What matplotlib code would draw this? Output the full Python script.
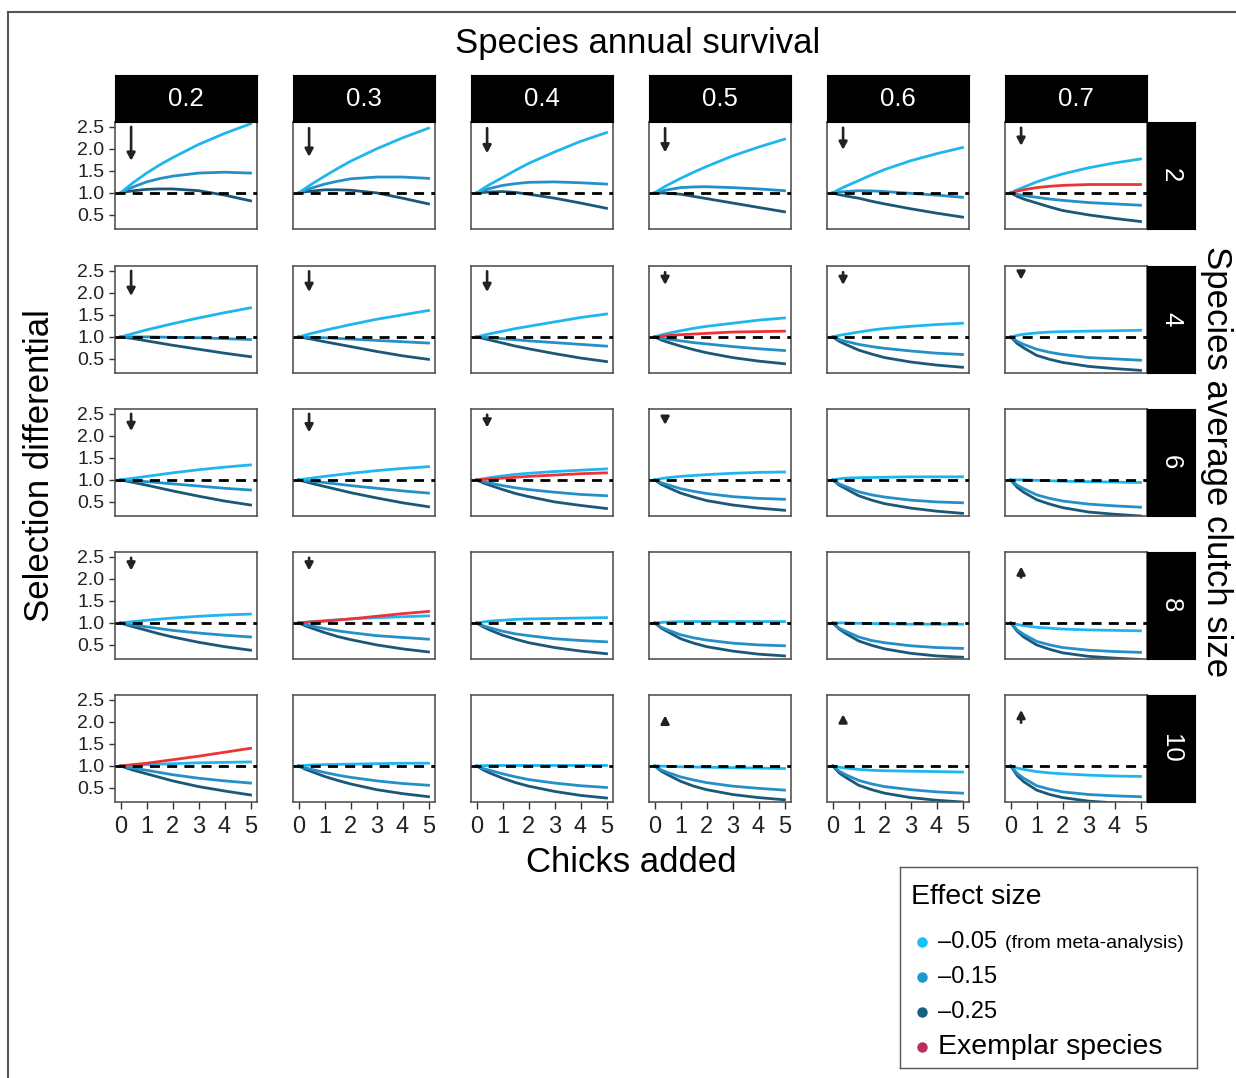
import matplotlib.pyplot as plt
from matplotlib.lines import Line2D

plt.rcParams['font.family'] = ['Liberation Sans', 'DejaVu Sans']

# facets
survival = ['0.2', '0.3', '0.4', '0.5', '0.6', '0.7']
clutch = ['2', '4', '6', '8', '10']
chicks = [0, 0.25, 0.5, 1, 1.5, 2, 3, 4, 5]

# selection differential, one list per survival column, effect size -0.05
light_c2 = [[1, 1.125, 1.24, 1.45, 1.635, 1.80, 2.10, 2.35, 2.57],
            [1, 1.10, 1.20, 1.38, 1.555, 1.72, 2.00, 2.25, 2.47],
            [1, 1.10, 1.19, 1.35, 1.515, 1.67, 1.93, 2.17, 2.37],
            [1, 1.095, 1.18, 1.33, 1.47, 1.60, 1.84, 2.04, 2.22],
            [1, 1.08, 1.15, 1.28, 1.41, 1.53, 1.73, 1.89, 2.03],
            [1, 1.07, 1.13, 1.25, 1.345, 1.43, 1.57, 1.68, 1.77]]
light_c4 = [[1, 1.04, 1.08, 1.16, 1.23, 1.30, 1.43, 1.55, 1.66],
            [1, 1.04, 1.08, 1.15, 1.215, 1.28, 1.40, 1.50, 1.60],
            [1, 1.035, 1.07, 1.13, 1.19, 1.24, 1.34, 1.44, 1.52],
            [1, 1.045, 1.08, 1.14, 1.195, 1.24, 1.31, 1.38, 1.43],
            [1, 1.035, 1.06, 1.11, 1.155, 1.19, 1.24, 1.28, 1.31],
            [1, 1.035, 1.06, 1.09, 1.11, 1.12, 1.13, 1.14, 1.15]]
light_c6 = [[1, 1.02, 1.04, 1.08, 1.12, 1.16, 1.23, 1.29, 1.34],
            [1, 1.02, 1.04, 1.08, 1.115, 1.15, 1.21, 1.26, 1.30],
            [1, 1.025, 1.05, 1.09, 1.125, 1.15, 1.19, 1.22, 1.25],
            [1, 1.03, 1.05, 1.08, 1.10, 1.12, 1.15, 1.17, 1.18],
            [1, 1.025, 1.04, 1.05, 1.055, 1.06, 1.07, 1.07, 1.07],
            [1, 1.00, 1.00, 0.99, 0.98, 0.97, 0.96, 0.95, 0.94]]
light_c8 = [[1, 1.015, 1.03, 1.06, 1.085, 1.11, 1.15, 1.18, 1.20],
            [1, 1.015, 1.03, 1.05, 1.07, 1.09, 1.12, 1.14, 1.16],
            [1, 1.02, 1.04, 1.06, 1.08, 1.09, 1.10, 1.11, 1.12],
            [1, 1.01, 1.02, 1.03, 1.03, 1.03, 1.03, 1.03, 1.03],
            [1, 1.00, 1.00, 0.99, 0.985, 0.98, 0.97, 0.97, 0.97],
            [1, 0.965, 0.94, 0.90, 0.88, 0.86, 0.84, 0.83, 0.82]]
light_c10 = [[1, 1.01, 1.02, 1.03, 1.04, 1.05, 1.07, 1.08, 1.09],
             [1, 1.01, 1.02, 1.03, 1.035, 1.04, 1.05, 1.06, 1.06],
             [1, 1.005, 1.01, 1.01, 1.01, 1.01, 1.01, 1.01, 1.01],
             [1, 0.995, 0.99, 0.98, 0.975, 0.97, 0.96, 0.95, 0.94],
             [1, 0.97, 0.95, 0.92, 0.90, 0.89, 0.88, 0.87, 0.86],
             [1, 0.95, 0.92, 0.87, 0.84, 0.82, 0.79, 0.77, 0.76]]

# effect size -0.15
medium_c2 = [[1, 1.075, 1.14, 1.25, 1.325, 1.38, 1.45, 1.47, 1.45],
             [1, 1.06, 1.11, 1.20, 1.265, 1.32, 1.36, 1.36, 1.33],
             [1, 1.055, 1.10, 1.17, 1.21, 1.24, 1.25, 1.23, 1.20],
             [1, 1.04, 1.07, 1.12, 1.135, 1.14, 1.12, 1.09, 1.05],
             [1, 1.02, 1.03, 1.05, 1.045, 1.03, 0.99, 0.95, 0.90],
             [1, 0.965, 0.94, 0.90, 0.86, 0.83, 0.78, 0.75, 0.72]]
medium_c4 = [[1, 1.00, 1.00, 1.00, 0.995, 0.99, 0.98, 0.96, 0.94],
             [1, 0.995, 0.99, 0.98, 0.965, 0.95, 0.92, 0.89, 0.86],
             [1, 0.99, 0.98, 0.96, 0.935, 0.91, 0.87, 0.83, 0.79],
             [1, 0.97, 0.95, 0.91, 0.87, 0.84, 0.78, 0.73, 0.69],
             [1, 0.94, 0.90, 0.83, 0.78, 0.74, 0.68, 0.63, 0.60],
             [1, 0.90, 0.83, 0.72, 0.65, 0.60, 0.53, 0.50, 0.47]]
medium_c6 = [[1, 0.99, 0.98, 0.96, 0.935, 0.91, 0.86, 0.81, 0.77],
             [1, 0.985, 0.97, 0.94, 0.905, 0.87, 0.81, 0.75, 0.70],
             [1, 0.96, 0.93, 0.87, 0.82, 0.78, 0.72, 0.67, 0.64],
             [1, 0.935, 0.89, 0.80, 0.74, 0.69, 0.62, 0.58, 0.56],
             [1, 0.91, 0.85, 0.73, 0.66, 0.61, 0.54, 0.50, 0.48],
             [1, 0.88, 0.80, 0.66, 0.58, 0.52, 0.45, 0.41, 0.38]]
medium_c8 = [[1, 0.97, 0.95, 0.91, 0.87, 0.83, 0.77, 0.72, 0.68],
             [1, 0.96, 0.93, 0.87, 0.82, 0.78, 0.71, 0.67, 0.63],
             [1, 0.935, 0.89, 0.81, 0.75, 0.71, 0.64, 0.60, 0.57],
             [1, 0.90, 0.84, 0.73, 0.66, 0.61, 0.54, 0.50, 0.48],
             [1, 0.88, 0.81, 0.68, 0.60, 0.55, 0.48, 0.44, 0.42],
             [1, 0.84, 0.74, 0.58, 0.50, 0.44, 0.38, 0.35, 0.33]]
medium_c10 = [[1, 0.97, 0.95, 0.90, 0.85, 0.80, 0.72, 0.66, 0.61],
              [1, 0.955, 0.92, 0.85, 0.79, 0.74, 0.66, 0.60, 0.56],
              [1, 0.94, 0.90, 0.82, 0.75, 0.69, 0.61, 0.55, 0.51],
              [1, 0.91, 0.85, 0.75, 0.68, 0.62, 0.54, 0.49, 0.45],
              [1, 0.88, 0.80, 0.67, 0.59, 0.53, 0.46, 0.41, 0.38],
              [1, 0.83, 0.72, 0.55, 0.47, 0.41, 0.35, 0.32, 0.30]]

# effect size -0.25
dark_c2 = [[1, 1.03, 1.05, 1.08, 1.09, 1.09, 1.05, 0.95, 0.82],
           [1, 1.025, 1.04, 1.07, 1.07, 1.06, 1.00, 0.88, 0.75],
           [1, 1.01, 1.02, 1.03, 1.01, 0.97, 0.88, 0.77, 0.65],
           [1, 1.00, 0.99, 0.97, 0.92, 0.87, 0.77, 0.67, 0.57],
           [1, 0.96, 0.93, 0.88, 0.81, 0.75, 0.64, 0.54, 0.45],
           [1, 0.92, 0.86, 0.77, 0.68, 0.60, 0.50, 0.42, 0.35]]
dark_c4 = [[1, 0.98, 0.96, 0.91, 0.86, 0.81, 0.72, 0.63, 0.55],
           [1, 0.975, 0.95, 0.89, 0.835, 0.78, 0.67, 0.57, 0.49],
           [1, 0.965, 0.93, 0.86, 0.79, 0.73, 0.62, 0.52, 0.44],
           [1, 0.93, 0.88, 0.79, 0.71, 0.64, 0.53, 0.45, 0.39],
           [1, 0.90, 0.83, 0.70, 0.61, 0.53, 0.43, 0.36, 0.31],
           [1, 0.85, 0.75, 0.58, 0.49, 0.42, 0.33, 0.28, 0.24]]
dark_c6 = [[1, 0.97, 0.94, 0.88, 0.815, 0.75, 0.63, 0.52, 0.43],
           [1, 0.96, 0.92, 0.85, 0.78, 0.71, 0.59, 0.48, 0.39],
           [1, 0.93, 0.88, 0.78, 0.69, 0.62, 0.50, 0.42, 0.35],
           [1, 0.90, 0.83, 0.70, 0.61, 0.53, 0.43, 0.36, 0.31],
           [1, 0.88, 0.80, 0.64, 0.54, 0.46, 0.36, 0.29, 0.24],
           [1, 0.83, 0.72, 0.55, 0.45, 0.37, 0.27, 0.22, 0.18]]
dark_c8 = [[1, 0.95, 0.91, 0.83, 0.75, 0.68, 0.56, 0.46, 0.38],
           [1, 0.935, 0.88, 0.78, 0.69, 0.62, 0.50, 0.41, 0.34],
           [1, 0.91, 0.84, 0.72, 0.63, 0.55, 0.44, 0.36, 0.30],
           [1, 0.88, 0.80, 0.64, 0.54, 0.46, 0.36, 0.29, 0.25],
           [1, 0.86, 0.76, 0.59, 0.49, 0.41, 0.31, 0.25, 0.22],
           [1, 0.81, 0.68, 0.50, 0.40, 0.32, 0.24, 0.20, 0.17]]
dark_c10 = [[1, 0.945, 0.90, 0.82, 0.74, 0.66, 0.53, 0.43, 0.34],
            [1, 0.925, 0.87, 0.76, 0.67, 0.59, 0.46, 0.37, 0.30],
            [1, 0.91, 0.84, 0.72, 0.62, 0.54, 0.42, 0.33, 0.27],
            [1, 0.88, 0.80, 0.65, 0.54, 0.46, 0.35, 0.28, 0.23],
            [1, 0.84, 0.74, 0.56, 0.46, 0.38, 0.28, 0.22, 0.18],
            [1, 0.78, 0.64, 0.45, 0.35, 0.28, 0.20, 0.16, 0.14]]

# exemplar species (clutch row, survival column)
exemplar_rows = [0, 1, 2, 3, 4]
exemplar_cols = [5, 3, 2, 1, 0]
exemplar_vals = [[1, 1.04, 1.07, 1.12, 1.15, 1.17, 1.19, 1.19, 1.19],
                 [1, 1.015, 1.03, 1.05, 1.065, 1.08, 1.11, 1.12, 1.13],
                 [1, 1.01, 1.02, 1.04, 1.06, 1.08, 1.11, 1.14, 1.16],
                 [1, 1.01, 1.02, 1.04, 1.065, 1.09, 1.15, 1.21, 1.26],
                 [1, 1.015, 1.03, 1.06, 1.10, 1.14, 1.22, 1.31, 1.40]]

# direction arrows: start / end on the y axis, None = no arrow
arrow_from = [[2.50, 2.47, 2.47, 2.47, 2.48, 2.48],
              [2.50, 2.49, 2.49, 2.47, 2.47, 2.44],
              [2.50, 2.50, 2.48, 2.44, None, None],
              [2.48, 2.48, None, None, None, 2.03],
              [None, None, None, 2.02, 1.98, 1.98]]
arrow_to = [[1.73, 1.82, 1.90, 1.92, 1.98, 2.07],
            [1.93, 2.02, 2.02, 2.18, 2.18, 2.30],
            [2.11, 2.08, 2.19, 2.25, None, None],
            [2.19, 2.19, None, None, None, 2.28],
            [None, None, None, 2.14, 2.17, 2.27]]

light = [light_c2, light_c4, light_c6, light_c8, light_c10]
medium = [medium_c2, medium_c4, medium_c6, medium_c8, medium_c10]
dark = [dark_c2, dark_c4, dark_c6, dark_c8, dark_c10]

col_light = '#1fb6ee'
col_medium = '#2490c9'
col_dark = '#1b5878'
col_red = '#ee3338'

W, H = 1236, 1078
fig = plt.figure(figsize=(W / 100, H / 100), dpi=100)


def box(l, t, w, h):
    return [l / W, 1 - (t + h) / H, w / W, h / H]


col_left = [115, 293, 471, 649, 827, 1005]
row_top = [122, 266, 409, 552, 695]
pw, ph = 142, 107

for r in range(len(clutch)):
    for c in range(len(survival)):
        ax = fig.add_axes(box(col_left[c], row_top[r], pw, ph))
        ax.plot(chicks, dark[r][c], color=col_dark, lw=2.0, zorder=2)
        ax.plot(chicks, medium[r][c], color=col_medium, lw=2.0, zorder=3)
        ax.plot(chicks, light[r][c], color=col_light, lw=2.0, zorder=4)
        for er, ec, ev in zip(exemplar_rows, exemplar_cols, exemplar_vals):
            if er == r and ec == c:
                ax.plot(chicks, ev, color=col_red, lw=2.0, zorder=5)
        ax.axhline(1.0, color='black', lw=2.0, ls=(0, (3.6, 2.6)), zorder=6)
        if arrow_from[r][c] is not None:
            ax.annotate('', xy=(0.4, arrow_to[r][c]), xytext=(0.4, arrow_from[r][c]),
                        arrowprops=dict(arrowstyle='-|>,head_length=0.45,head_width=0.24',
                                        color='#222222', lw=1.9, shrinkA=0, shrinkB=0,
                                        mutation_scale=10))
        ax.set_xlim(-0.22, 5.25)
        ax.set_ylim(0.18, 2.61)
        for s in ax.spines.values():
            s.set_color('#555555')
            s.set_linewidth(1.2)
        ax.set_xticks([0, 1, 2, 3, 4, 5])
        ax.set_yticks([0.5, 1.0, 1.5, 2.0, 2.5])
        ax.tick_params(axis='y', length=4.5, width=1, pad=3, labelsize=14,
                       colors='#333333', labelcolor='#222222')
        ax.tick_params(axis='x', length=5, width=1, pad=5, labelsize=17,
                       colors='#333333', labelcolor='#222222')
        if c != 0:
            ax.tick_params(axis='y', left=False, labelleft=False)
        if r != len(clutch) - 1:
            ax.tick_params(axis='x', bottom=False, labelbottom=False)

# strips
for c, lab in enumerate(survival):
    sax = fig.add_axes(box(col_left[c], 75, pw, 47))
    sax.set_facecolor('black')
    sax.set_xticks([])
    sax.set_yticks([])
    sax.text(0.5, 0.5, lab, color='white', fontsize=18.5, ha='center', va='center',
             transform=sax.transAxes)
for r, lab in enumerate(clutch):
    sax = fig.add_axes(box(1147, row_top[r], 48, ph))
    sax.set_facecolor('black')
    sax.set_xticks([])
    sax.set_yticks([])
    sax.text(0.5, 0.5, lab, color='white', fontsize=18.5, ha='center', va='center',
             rotation=270, transform=sax.transAxes)

fig.text(638 / W, 1 - 43 / H, 'Species annual survival', fontsize=25, ha='center', va='center')
fig.text(631 / W, 1 - 862 / H, 'Chicks added', fontsize=25, ha='center', va='center')
fig.text(40 / W, 1 - 466 / H, 'Selection differential', fontsize=25, ha='center', va='center',
         rotation=90)
fig.text(1217 / W, 1 - 462 / H, 'Species average clutch size', fontsize=25, ha='center',
         va='center', rotation=270)

# legend
leg_labels = ['\u20130.05', '\u20130.15', '\u20130.25', 'Exemplar species']
leg_colors = ['#19c0f5', '#1a98d0', '#15607f', '#b83062']
leg_sizes = [17, 17, 17, 20.5]
lax = fig.add_axes(box(900, 867, 297, 201))
lax.set_xlim(0, 297)
lax.set_ylim(201, 0)
lax.set_xticks([])
lax.set_yticks([])
for s in lax.spines.values():
    s.set_color('#555555')
    s.set_linewidth(1.0)
lax.text(11, 30, 'Effect size', fontsize=20.5, va='center', ha='left')
for i, (lab, colr, fs) in enumerate(zip(leg_labels, leg_colors, leg_sizes)):
    y = 75 + i * 35
    lax.plot(22, y, 'o', color=colr, ms=6.5)
    lax.text(38, y, lab, fontsize=fs, va='center', ha='left')
    if i == 0:
        lax.text(105, y + 1, '(from meta-analysis)', fontsize=14, va='center', ha='left')

# outer frame
fig.add_artist(Line2D([8 / W, 8 / W], [0, 1 - 12 / H], color='#555555', lw=1.5))
fig.add_artist(Line2D([8 / W, 1], [1 - 12 / H, 1 - 12 / H], color='#555555', lw=1.5))

fig.savefig('out.png', dpi=100)
